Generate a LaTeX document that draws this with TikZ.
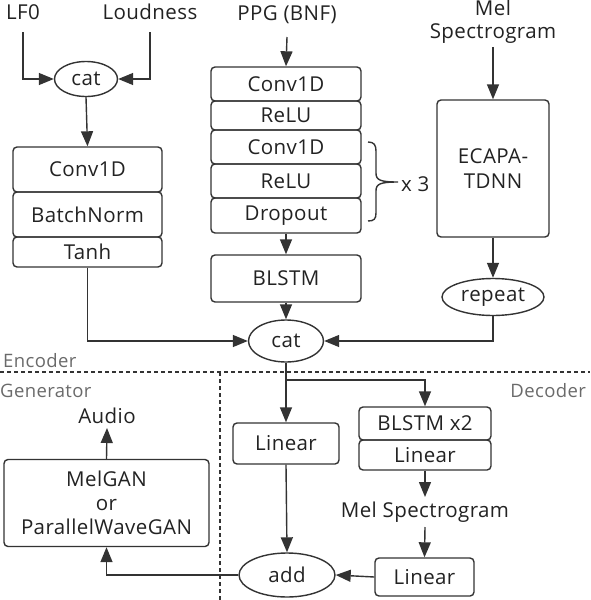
\documentclass[tikz,border=0pt]{standalone}
\usepackage{fontspec}
\setmainfont{Open Sans}[LetterSpace=2]
\usetikzlibrary{shapes.geometric,arrows.meta,calc}
\definecolor{ln}{HTML}{333333}
\definecolor{tx}{HTML}{222222}
\definecolor{lbl}{HTML}{6A6A6A}
\begin{document}
\begin{tikzpicture}[x=1pt,y=-1pt,
  every node/.style={text=tx, font=\fontsize{20.5}{24}\selectfont},
  blk/.style={draw=ln, line width=1.4pt, rounded corners=4pt, inner sep=0pt, align=center},
  ell/.style={draw=ln, line width=1.4pt, ellipse, inner sep=0pt},
  txt/.style={inner sep=0pt, text height=14pt, text depth=4pt, outer sep=0pt},
  arr/.style={draw=ln, line width=1.4pt, -{Triangle[length=15pt,width=12pt]}},
  conn/.style={draw=ln, line width=1.4pt},
  sep/.style={draw=ln, line width=1.2pt, dash pattern=on 4pt off 3pt},
  grp/.style={text=lbl, font=\fontsize{18.5}{22}\selectfont, inner sep=0pt}]
\useasboundingbox (0,0) rectangle (590,600);

% ---- left column
\node[txt] (lf0) at (23,14) {LF0};
\node[txt] (loud) at (150,14) {Loudness};
\node[ell, minimum width=63pt, minimum height=35pt] (cat1) at (86,79) {cat};
\node[blk, minimum width=149pt, minimum height=45pt] (conv1) at (87.5,169.5) {Conv1D};
\node[blk, minimum width=149pt, minimum height=45pt] (bn) at (87.5,214.5) {BatchNorm};
\node[blk, minimum width=149pt, minimum height=30pt] (tanh) at (87.5,252) {Tanh};

% ---- middle column
\node[txt] (ppg) at (287,15) {PPG (BNF)};
\node[blk, minimum width=150pt, minimum height=34pt] (c1) at (286,84) {Conv1D};
\node[blk, minimum width=150pt, minimum height=29pt] (r1) at (286,115.5) {ReLU};
\node[blk, minimum width=150pt, minimum height=34pt] (c2) at (286,147) {Conv1D};
\node[blk, minimum width=150pt, minimum height=34pt] (r2) at (286,181) {ReLU};
\node[blk, minimum width=150pt, minimum height=35pt] (dr) at (286,215.5) {Dropout};
\node[blk, minimum width=150pt, minimum height=47pt] (blstm) at (286,278.5) {BLSTM};
\node[ell, minimum width=75pt, minimum height=42pt] (cat2) at (286,341) {cat};

% brace
\coordinate (bt) at (368,142);
\coordinate (bb) at (368,221);
\draw[conn] (bt) .. controls (374,142) and (376,145) .. (376,151) -- (376,173)
  .. controls (376,180) and (380,182) .. (398,182)
  .. controls (380,182) and (376,184) .. (376,191) -- (376,213)
  .. controls (376,219) and (374,221) .. (bb);
\node[inner sep=0pt, anchor=west] (x3) at (401,184) {x 3};

% ---- right column
\node[inner sep=0pt, align=center, font=\fontsize{20.5}{23}\selectfont] (mel) at (493,22) {Mel\\Spectrogram};
\node[blk, minimum width=112pt, minimum height=137pt, font=\fontsize{20.5}{25}\selectfont] (ecapa) at (493,168.5) {\raisebox{-4pt}{ECAPA-}\\\raisebox{-4pt}{TDNN}};
\node[ell, minimum width=102pt, minimum height=37pt] (rep) at (493,297) {repeat};

% ---- separators
\coordinate (hl) at (0,372);
\coordinate (hr) at (590,372);
\coordinate (vt) at (220,372);
\coordinate (vb) at (220,600);
\draw[sep] (hl) -- (hr);
\draw[sep] (vt) -- (vb);
\node[grp, anchor=west] (enc) at (3,361) {Encoder};
\node[grp, anchor=west] (gen) at (0,391) {Generator};
\node[grp, anchor=east] (dec) at (586,391) {Decoder};

% ---- decoder
\node[blk, minimum width=106pt, minimum height=41pt] (lin1) at (286,443.5) {Linear};
\node[blk, minimum width=132pt, minimum height=33pt] (bl2) at (425,423.5) {BLSTM x2};
\node[blk, minimum width=132pt, minimum height=30pt] (lin2) at (425,455) {Linear};
\node[txt] (mel2) at (425,512) {Mel Spectrogram};
\node[blk, minimum width=99pt, minimum height=38pt] (lin3) at (424.5,577) {Linear};
\node[ell, minimum width=96pt, minimum height=44pt] (add) at (287,575) {add};

% ---- generator
\node[blk, minimum width=205pt, minimum height=87pt, font=\fontsize{20.5}{24}\selectfont] (gan) at (106.5,503) {MelGAN\\or\\ParallelWaveGAN};
\node[txt] (audio) at (107,418) {Audio};

% ---- connectors
\draw[arr] ([yshift=-9pt]lf0.south) |- (cat1.west);
\draw[arr] ([yshift=-9pt]loud.south) |- (cat1.east);
\draw[arr] (cat1.south) -- (conv1.north);
\draw[arr] (tanh.south) |- (cat2.west);
\draw[arr] ([yshift=-13pt]ppg.south) -- (c1.north);
\draw[arr] ([yshift=-3pt]mel.south) -- (ecapa.north);
\draw[arr] (dr.south) -- (blstm.north);
\draw[arr] (blstm.south) -- (cat2.north);
\draw[arr] (ecapa.south) -- (rep.north);
\draw[arr] (rep.south) |- (cat2.east);
\draw[arr] (cat2.south) -- (lin1.north);
\coordinate (br) at (286,380);
\draw[arr] (br) -| (bl2.north);
\draw[arr] (lin2.south) -- ([yshift=6pt]mel2.north);
\draw[arr] ([yshift=-6pt]mel2.south) -- (lin3.north);
\draw[arr] (lin3.west) -- (add.east);
\draw[arr] (lin1.south) -- (add.north);
\draw[arr] (add.west) -| (gan.south);
\draw[arr] (gan.north) -- ([yshift=-1pt]audio.south);
\end{tikzpicture}
\end{document}
